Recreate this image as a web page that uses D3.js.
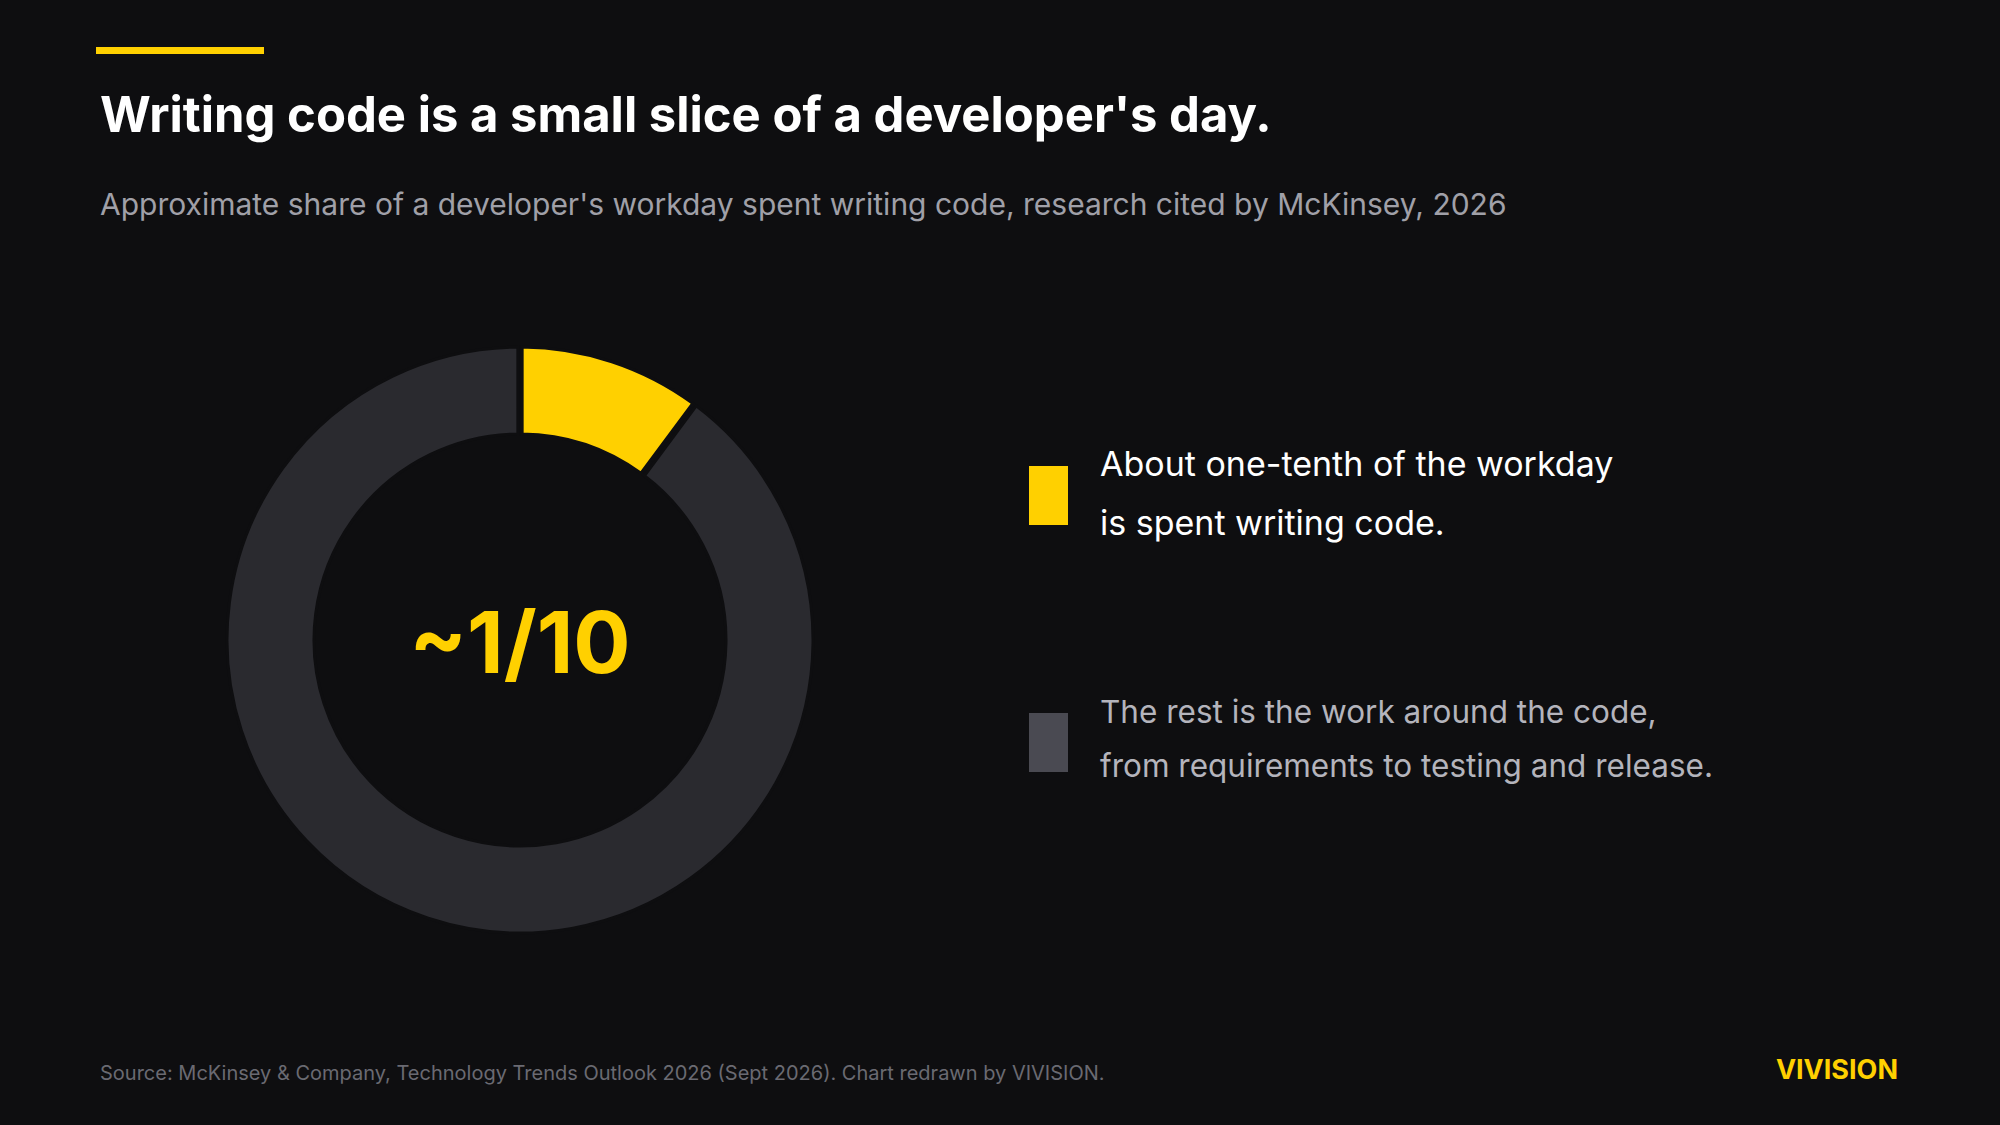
<!DOCTYPE html>
<html><head><meta charset="utf-8">
<script src="https://cdn.jsdelivr.net/npm/d3@7"></script>
<style>html,body{margin:0;padding:0;background:#0e0e10;}svg{display:block;}</style>
</head><body>
<script>
const categories = ["Writing code", "Everything else"];
const values = [10, 90];
const centerLabel = "~1/10";
const legendLines = [
  ["About one-tenth of the workday", "is spent writing code."],
  ["The rest is the work around the code,", "from requirements to testing and release."]
];
const colors = ["#FFD000", "#2a2a2f"];
const swatchColors = ["#FFD000", "#4a4a52"];
const textColors = ["#ffffff", "#b4b4bc"];
const textSizes = [34, 31.5];

const W = 2000, H = 1125, F = "Inter, 'Liberation Sans', sans-serif";
const svg = d3.select("body").append("svg").attr("width", W).attr("height", H);
svg.append("rect").attr("width", W).attr("height", H).attr("fill", "#0e0e10");
svg.append("rect").attr("x", 96).attr("y", 47).attr("width", 168).attr("height", 7).attr("fill", "#FFD000");
svg.append("text").attr("x", 100).attr("y", 132).attr("fill", "#fff").attr("font-family", F)
  .attr("font-weight", 700).attr("font-size", 49).text("Writing code is a small slice of a developer's day.");
svg.append("text").attr("x", 100).attr("y", 215).attr("fill", "#a0a0a8").attr("font-family", F)
  .attr("font-size", 30).text("Approximate share of a developer's workday spent writing code, research cited by McKinsey, 2026");

const g = svg.append("g").attr("transform", "translate(520,640)");
const pie = d3.pie().sort(null).padAngle(0.012)(values);
const arc = d3.arc().innerRadius(206).outerRadius(293);
g.selectAll("path").data(pie).join("path").attr("d", arc).attr("fill", (d, i) => colors[i])
  .attr("stroke", "#0e0e10").attr("stroke-width", 3);
g.append("text").attr("text-anchor", "middle").attr("y", 33).attr("fill", "#FFD000")
  .attr("font-family", F).attr("font-weight", 700).attr("font-size", 85).text(centerLabel);

const ly = [466, 713];
legendLines.forEach((lines, i) => {
  svg.append("rect").attr("x", 1029).attr("y", ly[i]).attr("width", 39).attr("height", 59).attr("fill", swatchColors[i]);
  lines.forEach((l, j) => {
    svg.append("text").attr("x", 1100).attr("y", ly[i] + 10 + j * (i === 0 ? 59 : 54)).attr("fill", textColors[i])
      .attr("font-family", F).attr("font-size", textSizes[i]).text(l);
  });
});
svg.append("text").attr("x", 100).attr("y", 1080).attr("fill", "#6a6a72").attr("font-family", F)
  .attr("font-size", 20).text("Source: McKinsey & Company, Technology Trends Outlook 2026 (Sept 2026). Chart redrawn by VIVISION.");
svg.append("text").attr("x", 1898).attr("y", 1079).attr("text-anchor", "end").attr("fill", "#FFD000").attr("font-family", F)
  .attr("font-weight", 700).attr("font-size", 27).text("VIVISION");
</script>
</body></html>
